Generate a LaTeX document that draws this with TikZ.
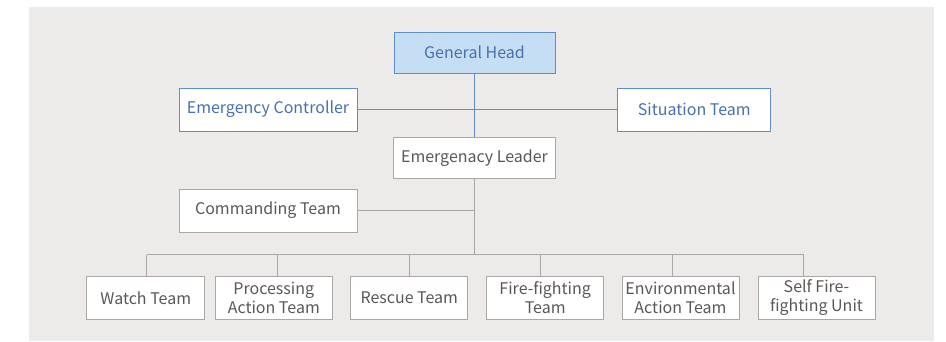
\documentclass[tikz,border=0pt]{standalone}
\usepackage{fontspec}
\setmainfont{Noto Sans CJK SC}
\definecolor{panel}{HTML}{EDEBE9}
\definecolor{greyline}{HTML}{ABA5A3}
\definecolor{greytext}{HTML}{5A5757}
\definecolor{blueline}{HTML}{5E8ED0}
\definecolor{bluetext}{HTML}{4770B0}
\definecolor{bluefill}{HTML}{C6DEF3}
\tikzset{
  box/.style={draw=greyline, fill=white, line width=1pt, inner sep=0pt,
    align=center, text=greytext, minimum height=43pt,
    font=\fontsize{16}{19}\selectfont},
  bluebox/.style={box, draw=blueline, text=bluetext},
  greylink/.style={draw=greyline, line width=1pt},
  bluelink/.style={draw=blueline, line width=1pt},
}
\begin{document}
\begin{tikzpicture}[x=1pt,y=-1pt]
  \useasboundingbox (0,0) rectangle (946,341);
  \fill[white] (0,0) rectangle (946,341);
  \fill[panel] (29,7) rectangle (934,341);

  % upper command level
  \node[bluebox, fill=bluefill, minimum width=161pt, minimum height=41pt] (head) at (474.5,52.5) {General Head};
  \node[bluebox, minimum width=178pt] (ctrl) at (268,109.5) {Emergency Controller};
  \node[bluebox, minimum width=152.7pt] (sit) at (694.3,109.5) {Situation Team};
  \node[box, minimum width=162pt, minimum height=41.3pt] (lead) at (474.5,158.3) {Emergenacy Leader};
  \node[box, minimum width=178pt] (cmd) at (268,210.5) {Commanding Team};

  % field teams
  \node[box, minimum width=117.7pt] (watch) at (145.8,298) {Watch Team};
  \node[box, minimum width=117pt] (proc) at (273.8,298) {Processing\\Action Team};
  \node[box, minimum width=116.7pt] (rescue) at (409.3,298) {Rescue Team};
  \node[box, minimum width=117pt] (fire) at (545.2,298) {Fire-fighting\\Team};
  \node[box, minimum width=117pt] (env) at (680.5,298) {Environmental\\Action Team};
  \node[box, minimum width=117pt] (self) at (816.5,298) {Self Fire-\\fighting Unit};

  % blue links
  \draw[bluelink] (head.south -| lead.north) -- (lead.north);
  \draw[bluelink] (ctrl.east) -- (sit.west);

  % grey links
  \coordinate (busL) at (146.5,254.5);
  \coordinate (busR) at (803.5,254.5);
  \coordinate (trunk) at (lead.south |- busL);
  \draw[greylink] (lead.south) -- (trunk);
  \draw[greylink] (cmd.east) -- (cmd.east -| lead.south);
  \draw[greylink] (busL) -- (busR);
  \foreach \xb/\t in {146.5/watch, 277.5/proc, 409.5/rescue, 540.5/fire, 672.5/env, 803.5/self} {
    \coordinate (d) at (\xb,254.5);
    \draw[greylink] (d) -- (d |- \t.north);
  }
\end{tikzpicture}
\end{document}
